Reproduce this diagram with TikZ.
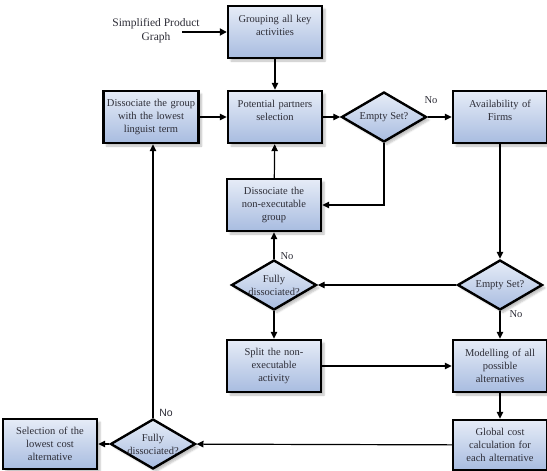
\documentclass[tikz,border=0pt]{standalone}
\usepackage{fontspec}
\setmainfont{Liberation Serif}
\newfontfamily\arialfont{Liberation Sans}
\usetikzlibrary{shapes.geometric,arrows.meta,shadows.blur}
\definecolor{fillA}{RGB}{230,236,247}
\definecolor{fillB}{RGB}{168,188,224}
\definecolor{txt}{RGB}{45,45,55}
\tikzset{
  boxnode/.style={rectangle, draw=black, line width=2.4pt, top color=fillA, bottom color=fillB,
    minimum width=85pt, minimum height=52pt, inner sep=1pt, align=center, text width=92pt,
    font=\fontsize{10.5}{13}\selectfont, text=txt,
    blur shadow={shadow xshift=3pt, shadow yshift=-3pt, shadow blur steps=5, shadow opacity=25}},
  dianode/.style={diamond, draw=black, line width=2.4pt, top color=fillA, bottom color=fillB,
    minimum width=85pt, minimum height=50pt, inner sep=0pt,
    blur shadow={shadow xshift=3pt, shadow yshift=-3pt, shadow blur steps=5, shadow opacity=25}},
  dtext/.style={align=center, font=\fontsize{10.5}{13}\selectfont, text=txt, inner sep=0pt},
  lab/.style={font=\fontsize{10.5}{13}\selectfont, text=txt, inner sep=0pt},
  arr/.style={draw=black, line width=1.2pt, -{Triangle[length=7pt,width=6.5pt]}},
}
\begin{document}
\begin{tikzpicture}[x=1pt,y=-1pt]
\useasboundingbox (0,0) rectangle (547,471);

\node[boxnode] (grp) at (275,32) {Grouping all key\\activities\\\mbox{}};
\node[boxnode] (pot) at (275,117) {Potential partners\\selection\\\mbox{}};
\node[boxnode, minimum width=95pt] (dgl) at (151,117) {Dissociate the group\\with the lowest\\linguist term};
\node[dianode] (es1) at (384,117) {};
\node[dtext] (es1t) at (es1) {Empty Set?};
\node[boxnode] (avail) at (500,117) {Availability of\\Firms\\\mbox{}};
\node[boxnode] (dng) at (274,205) {Dissociate the\\non-executable\\group};
\node[dianode] (fd1) at (274,285) {};
\node[dtext] (fd1t) at (fd1) {Fully\\dissociated?};
\node[dianode] (es2) at (500,285) {};
\node[dtext] (es2t) at (es2) {Empty Set?};
\node[boxnode] (split) at (274,366) {Split the non-\\executable\\activity};
\node[boxnode] (model) at (500,366) {Modelling of all\\possible\\alternatives};
\node[boxnode, minimum height=50pt] (glob) at (500,445) {Global cost\\calculation for\\each alternative};
\node[dianode] (fd2) at (153,444) {};
\node[dtext] (fd2t) at (fd2) {Fully\\dissociated?};
\node[boxnode, minimum height=50pt] (sel) at (50,444) {Selection of the\\lowest cost\\alternative};

\node[dtext, font=\fontsize{11.5}{14}\selectfont] (spg) at (156,31) {Simplified Product\\Graph};
\coordinate (spgs) at (182,32);
\draw[draw=black, line width=2.4pt, -{Triangle[length=7pt,width=7pt]}] (spgs) -- (grp.west |- spgs);

\draw[arr] (grp) -- (pot);
\draw[arr] (dgl) -- (pot);
\draw[arr] (pot) -- (es1);
\draw[arr] (es1) -- (avail);
\node[lab] (no1) at (431,100) {No};
\draw[arr] (es1.south) |- (dng.east);
\draw[arr] (dng) -- (pot);
\draw[arr] (avail) -- (es2);
\draw[arr] (es2) -- (fd1);
\draw[arr] (fd1) -- (dng);
\node[lab] (no2) at (287,256) {No};
\draw[arr] (fd1) -- (split);
\draw[arr] (es2) -- (model);
\node[lab] (no3) at (516,314) {No};
\draw[arr] (split) -- (model);
\draw[arr] (model) -- (glob);
\draw[arr] (glob) -- (fd2);
\draw[arr] (fd2) -- (sel);
\draw[arr] (fd2.north) -- (fd2.north |- dgl.south);
\node[lab, font=\arialfont\fontsize{10.5}{13}\selectfont] (no4) at (166,413) {No};
\end{tikzpicture}
\end{document}
